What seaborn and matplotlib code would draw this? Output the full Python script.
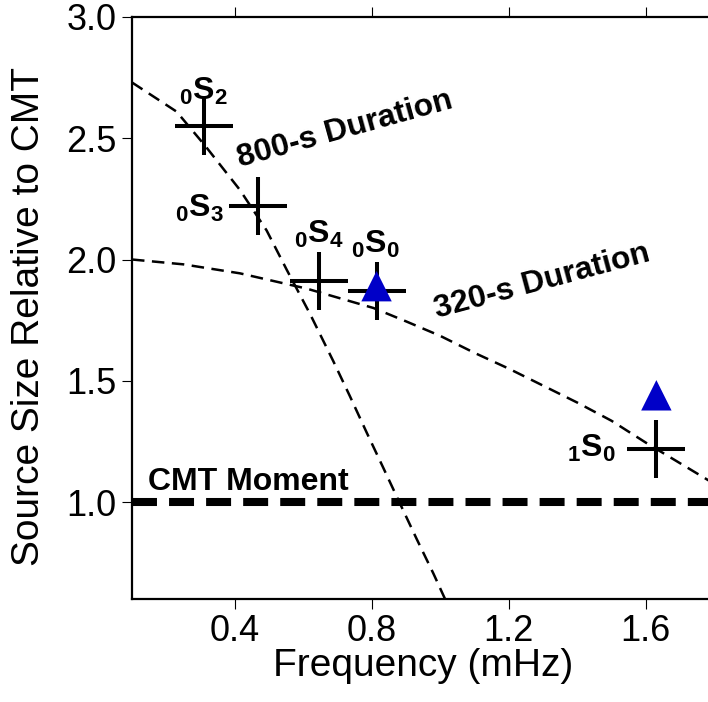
import numpy as np
import pandas as pd
import matplotlib
matplotlib.use("Agg")
import matplotlib.pyplot as plt
import seaborn as sns

# measured normal modes (crosses)
modes = [r"$\mathbf{{}_0S_2}$", r"$\mathbf{{}_0S_3}$", r"$\mathbf{{}_0S_4}$",
         r"$\mathbf{{}_0S_0}$", r"$\mathbf{{}_1S_0}$"]
mode_freq = [0.309, 0.468, 0.647, 0.814, 1.631]
mode_size = [2.55, 2.22, 1.91, 1.87, 1.22]

# blue triangles
tri_freq = [0.814, 1.631]
tri_size = [1.89, 1.44]

# dashed curves
f800 = [0.10, 0.23, 0.313, 0.415, 0.493, 0.552, 0.62, 0.688, 0.736, 0.785,
        0.833, 0.882, 0.931, 0.98, 1.014]
s800 = [2.73, 2.61, 2.47, 2.287, 2.12, 1.957, 1.775, 1.58, 1.437, 1.287,
        1.143, 0.995, 0.848, 0.705, 0.60]
f320 = [0.10, 0.25, 0.415, 0.61, 0.805, 0.90, 1.0, 1.1, 1.2, 1.3, 1.4,
        1.5, 1.6, 1.7, 1.8]
s320 = [2.0, 1.98, 1.943, 1.88, 1.80, 1.745, 1.685, 1.615, 1.55, 1.48,
        1.41, 1.335, 1.245, 1.16, 1.075]

cmt_freq = [0.1, 1.8]
cmt_size = [1.0, 1.0]

xticks = [0.4, 0.8, 1.2, 1.6]
yticks = [1.0, 1.5, 2.0, 2.5, 3.0]

sns.set_style("ticks", {"axes.edgecolor": "black", "text.color": "black",
                        "axes.labelcolor": "black", "xtick.color": "black",
                        "ytick.color": "black"})
plt.rcParams["font.family"] = ["Liberation Sans", "DejaVu Sans"]
plt.rcParams["mathtext.fontset"] = "custom"
plt.rcParams["mathtext.bf"] = "Liberation Sans:bold"
plt.rcParams["mathtext.rm"] = "Liberation Sans"

fig = plt.figure(figsize=(7.08, 7.02), dpi=100)
ax = fig.add_axes([132 / 708, 1 - 599 / 702, 582.25 / 708, 582 / 702])

thin = (0, (5, 3))
sns.lineplot(x=f800, y=s800, ax=ax, color="black", linewidth=1.8,
             linestyle=thin, sort=False)
sns.lineplot(x=f320, y=s320, ax=ax, color="black", linewidth=1.8,
             linestyle=thin, sort=False)
sns.lineplot(x=cmt_freq, y=cmt_size, ax=ax, color="black", linewidth=5.8,
             linestyle=(0, (3.1, 1.5)), sort=False)

sns.scatterplot(x=mode_freq, y=mode_size, ax=ax, marker="+", s=1750,
                color="black", linewidth=2.9, zorder=3)
sns.scatterplot(x=tri_freq, y=tri_size, ax=ax, marker="^", s=480,
                color="#0000c8", edgecolor="none", zorder=4)

# mode labels
lab_x = [0.307, 0.367, 0.646, 0.812, 1.513]
lab_y = [2.66, 2.176, 2.067, 2.028, 1.184]
lab_ha = ["center", "right", "center", "center", "right"]
for t, x, y, ha in zip(modes, lab_x, lab_y, lab_ha):
    ax.text(x, y, t, fontsize=23, ha=ha, va="baseline", color="black")

ax.text(0.415, 2.383, "800-s Duration", fontsize=23, fontweight="bold",
        rotation=15.5, rotation_mode="anchor", ha="left", va="baseline")
ax.text(0.99, 1.7575, "320-s Duration", fontsize=23, fontweight="bold",
        rotation=15, rotation_mode="anchor", ha="left", va="baseline")
ax.text(0.148, 1.05, "CMT Moment", fontsize=23, fontweight="bold",
        ha="left", va="baseline")

ax.set_xlim(0.1, 1.8)
ax.set_ylim(0.6, 3.0)
ax.set_xticks(xticks)
ax.set_xticklabels([f"{v:.1f}" for v in xticks])
ax.set_yticks(yticks)
ax.set_yticklabels([f"{v:.1f}" for v in yticks])
ax.tick_params(axis="both", direction="out", length=7, width=0.8,
               labelsize=26, pad=4, colors="black")
ax.tick_params(axis="x", top=True)
for side in ["left", "bottom", "top"]:
    ax.spines[side].set_linewidth(1.6)
ax.spines["right"].set_visible(False)

ax.set_xlabel("Frequency (mHz)", fontsize=28)
ax.set_ylabel("Source Size Relative to CMT", fontsize=28)
ax.xaxis.set_label_coords(0.5, -0.085)
ax.yaxis.set_label_coords(-0.146, 0.485)

fig.savefig("out.png", dpi=100)
